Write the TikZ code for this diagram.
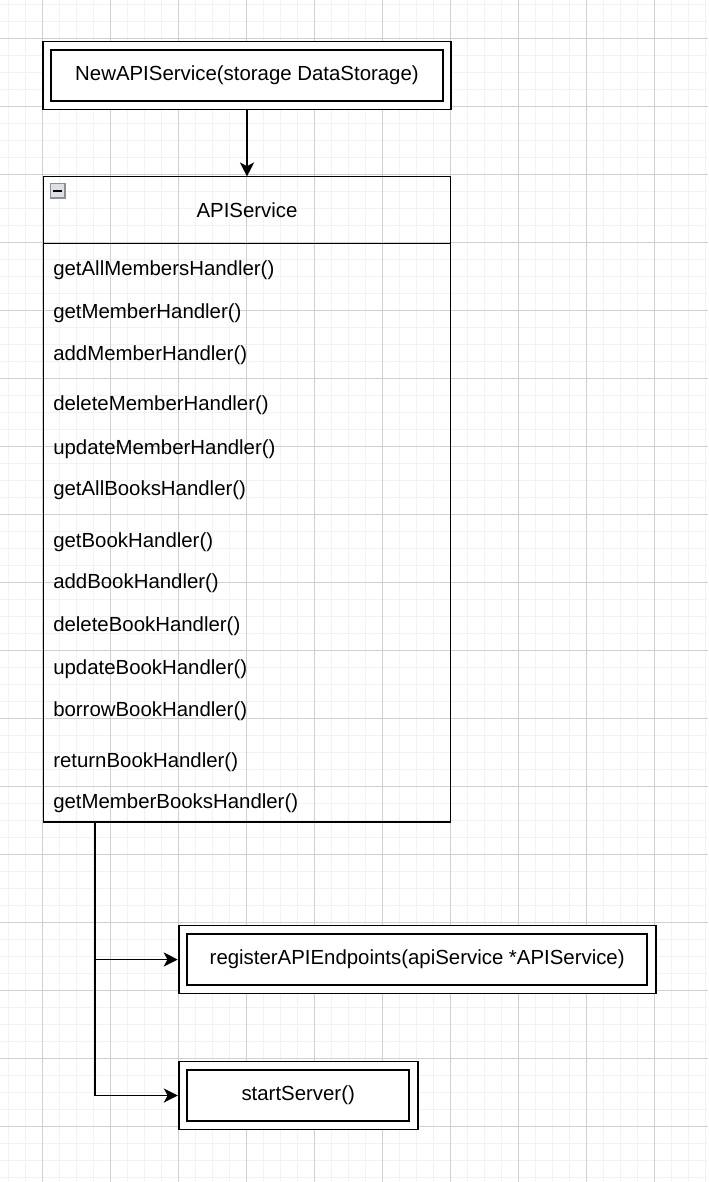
\documentclass[tikz,border=0pt]{standalone}
\usepackage{fontspec}
\setmainfont{Liberation Sans}
\usetikzlibrary{arrows.meta}

\begin{document}
\begin{tikzpicture}[x=0.75pt,y=0.75pt,yscale=-1,xscale=1,
		gridminor/.style={color={rgb, 255:red, 242; green, 242; blue, 242 },line width=0.9pt},
		gridmajor/.style={color={rgb, 255:red, 208; green, 208; blue, 208 },line width=0.75pt},
		dblbox/.style={draw,fill=white,double,double distance=5pt,line width=1.4pt,inner sep=0pt,outer sep=3.9pt,minimum height=44.6pt,font=\fontsize{15.3}{18}\selectfont},
		classbox/.style={draw,line width=1.4pt,inner sep=0pt,outer sep=0pt},
		member/.style={anchor=base west,inner sep=0pt,font=\fontsize{15.3}{18}\selectfont},
		flow/.style={line width=1.4pt,-{Stealth[length=10.5pt,width=10.5pt,inset=2.8pt]}}]
		\useasboundingbox (0,0) rectangle (708,1182);
		\fill[white] (0,0) rectangle (708,1182);
		% page grid
		\foreach \i in {0,...,41} \draw[gridminor] ({8.5+17*\i},0) -- ({8.5+17*\i},1182);
		\foreach \i in {0,...,69} \draw[gridminor] (0,{4.3+17*\i}) -- (708,{4.3+17*\i});
		\foreach \i in {0,...,9} \draw[gridmajor] ({42.5+68*\i},0) -- ({42.5+68*\i},1182);
		\foreach \i in {0,...,16} \draw[gridmajor] (0,{38.3+68*\i}) -- (708,{38.3+68*\i});

		\node[dblbox,minimum width=300pt] (newsvc) at (247,75.5) {NewAPIService(storage DataStorage)};
		\node[classbox,minimum width=305.25pt,minimum height=484.1pt] (api) at (247,499.2) {};
		\draw[line width=1.4pt] (43.5,243.5) -- (450.5,243.5);
		\draw[draw={rgb, 255:red, 138; green, 143; blue, 156 },fill={rgb, 255:red, 222; green, 223; blue, 228 },line width=0.9pt] (50.5,183.5) rectangle (65,198);
		\draw[line width=1.9pt] (53.3,190.8) -- (62.2,190.8);
		\node[member,anchor=base] (apititle) at (247,217.5) {APIService};
		\foreach \name/\yy/\txt in {getallmembers/275/getAllMembersHandler(),
				getmember/318/getMemberHandler(),
				addmember/360/addMemberHandler(),
				deletemember/410/deleteMemberHandler(),
				updatemember/454/updateMemberHandler(),
				getallbooks/495/getAllBooksHandler(),
				getbook/547/getBookHandler(),
				addbook/588/addBookHandler(),
				deletebook/631/deleteBookHandler(),
				updatebook/674/updateBookHandler(),
				borrowbook/716/borrowBookHandler(),
				returnbook/767/returnBookHandler(),
				getmemberbooks/808/getMemberBooksHandler()}
			\node[member] (\name) at (53,\yy) {\txt};

		\node[dblbox,minimum width=351.4pt] (register) at (417.2,959.5) {registerAPIEndpoints(apiService *APIService)};
		\node[dblbox,minimum width=172.7pt] (start) at (298.2,1095.5) {startServer()};
		\coordinate (fork) at (94.7,822);

		\draw[flow] (newsvc.south) -- (api.north);
		\draw[flow] (fork) |- (register.west);
		\draw[flow] (fork) |- (start.west);
\end{tikzpicture}
\end{document}
